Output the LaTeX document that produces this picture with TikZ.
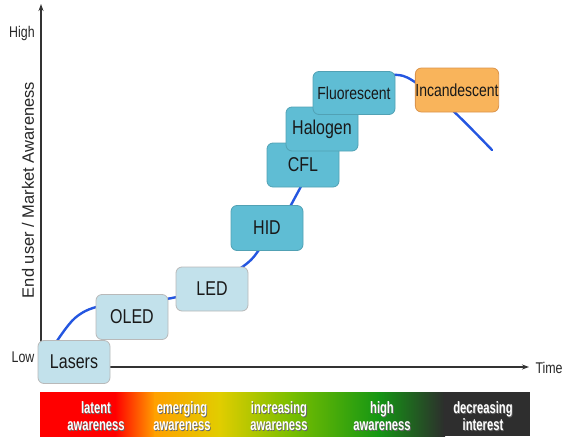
\documentclass[tikz,border=0pt]{standalone}
\usepackage{fontspec}
\setmainfont{Liberation Sans}
\newfontfamily\boxfont[FakeStretch=0.8]{Liberation Sans}
\newfontfamily\barfont[FakeStretch=0.68]{Liberation Sans}
\usetikzlibrary{arrows.meta}
\definecolor{lightbox}{HTML}{C2E1EB}
\definecolor{darkbox}{HTML}{5FBDD4}
\definecolor{orangebox}{HTML}{F9B45B}
\definecolor{curveblue}{HTML}{2456E0}
\tikzset{
  tech/.style={draw=#1, rounded corners=6pt, line width=0.8pt, inner sep=0pt, font=\boxfont\fontsize{20}{22}\selectfont, text=black!90},
  lightnode/.style={tech=gray!55, fill=lightbox},
  darknode/.style={tech=darkbox!85!black, fill=darkbox},
  axislbl/.style={font=\boxfont\fontsize{15.5}{17}\selectfont, text=black!85},
  barlbl/.style={font=\barfont\bfseries\fontsize{16.5}{17}\selectfont, text=white, align=center},
  barshadow/.style={font=\barfont\bfseries\fontsize{16.5}{17}\selectfont, text=black!60, align=center}
}
\begin{document}
\begin{tikzpicture}[x=1pt,y=-1pt]
\useasboundingbox (0,0) rectangle (572,436);
% colour bar
\shade[left color=red, right color=red] (40,392) rectangle (116,436);
\shade[left color=red, right color={rgb,255:red,255;green,160;blue,0}] (115,392) rectangle (155,436);
\shade[left color={rgb,255:red,255;green,160;blue,0}, right color={rgb,255:red,225;green,205;blue,0}] (154,392) rectangle (220,436);
\shade[left color={rgb,255:red,225;green,205;blue,0}, right color={rgb,255:red,120;green,190;blue,0}] (219,392) rectangle (292,436);
\shade[left color={rgb,255:red,120;green,190;blue,0}, right color={rgb,255:red,20;green,150;blue,20}] (291,392) rectangle (380,436);
\shade[left color={rgb,255:red,20;green,150;blue,20}, right color={rgb,255:red,45;green,45;blue,45}] (379,392) rectangle (445,436);
\fill[black!82] (444,392) rectangle (530,436);
\foreach \x/\t [count=\i] in {96/{latent\\awareness},182/{emerging\\awareness},279/{increasing\\awareness},382/{high\\awareness},483/{decreasing\\interest}}{
  \node[barshadow] at (\x+0.8,417.3) {\t};
  \node[barlbl] (bar\i) at (\x,416.5) {\t};
}
% axes
\coordinate (origin) at (41,367);
\coordinate (ytip) at (41,4);
\coordinate (xtip) at (529,367);
\draw[line width=1.2pt, black!80, -{Stealth[length=7pt,width=5pt]}] (origin) -- (ytip);
\draw[line width=1.2pt, black!80, -{Stealth[length=7pt,width=5pt]}] (origin) -- (xtip);
\node[axislbl] (high) at (22,33) {High};
\node[axislbl] (low) at (23,357) {Low};
\node[axislbl, anchor=west] (time) at (532,368) {Time};
\node[font=\fontsize{16.5}{18}\selectfont, text=black!85, rotate=90] (ylbl) at (28,190) {End user / Market Awareness};
% curve
\draw[curveblue, line width=2.4pt, line cap=round] plot[smooth, tension=0.6] coordinates {(55,344) (75,318) (100,306) (140,302) (172,298) (205,289) (245,265) (262,246) (282,220) (298,192) (320,150) (345,105) (372,80) (398,75) (418,84) (450,108) (492,150)};
% boxes
\node[lightnode, minimum width=72pt, minimum height=43pt] (lasers) at (74,362) {Lasers};
\node[lightnode, minimum width=72pt, minimum height=45pt] (oled) at (132,317) {OLED};
\node[lightnode, minimum width=72pt, minimum height=44pt] (led) at (212,289) {LED};
\node[darknode, minimum width=72pt, minimum height=45pt] (hid) at (267,228) {HID};
\node[darknode, minimum width=72pt, minimum height=44pt] (cfl) at (303,165) {CFL};
\node[darknode, minimum width=72pt, minimum height=44pt] (halogen) at (322,129) {Halogen};
\node[darknode, minimum width=82pt, minimum height=43pt, font=\boxfont\fontsize{17.5}{19}\selectfont] (fluor) at (354,93) {Fluorescent};
\node[tech=orange!80!black!70, fill=orangebox, minimum width=82pt, minimum height=44pt, font=\boxfont\fontsize{17.5}{19}\selectfont] (incand) at (457,90) {Incandescent};
\end{tikzpicture}
\end{document}
